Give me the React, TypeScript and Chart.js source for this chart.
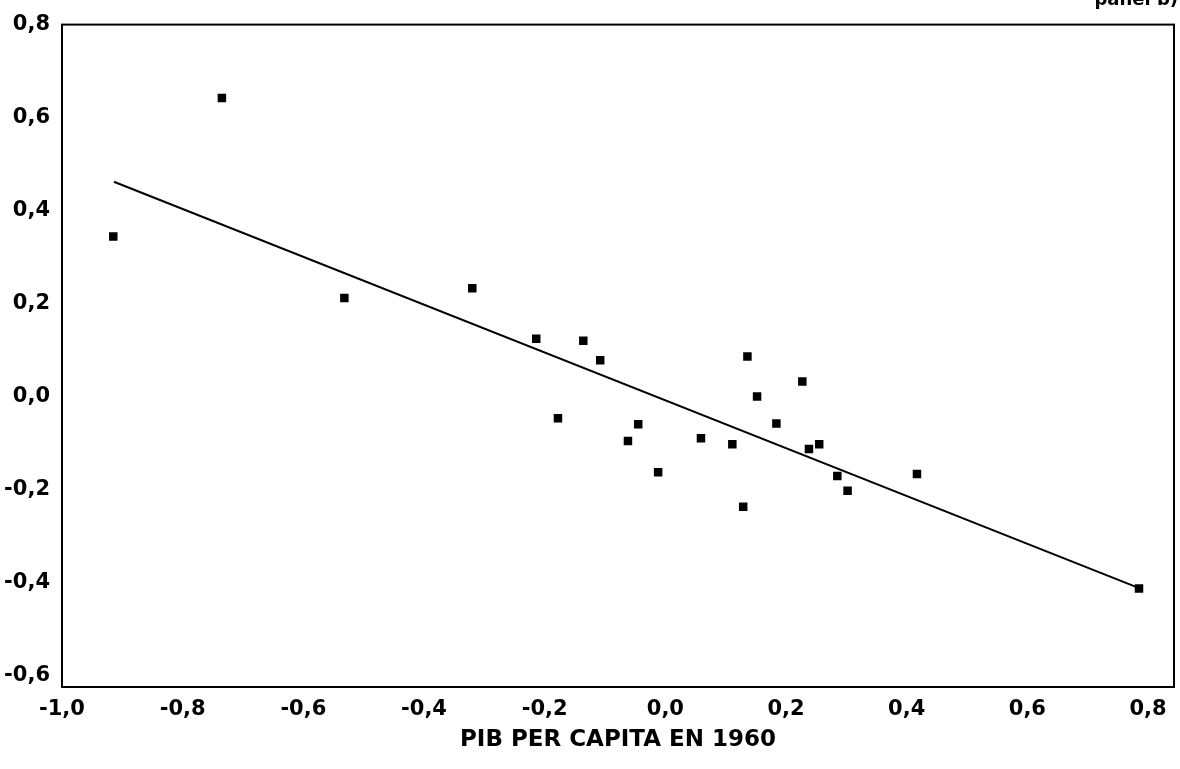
import React, { useEffect, useRef } from "react";
import { Chart, registerables } from "chart.js";

Chart.register(...registerables);

// Scatter data: x = PIB per capita en 1960, y = value (panel b)
const pointsX = [
  -0.915, -0.735, -0.532, -0.32, -0.214, -0.136, -0.108, -0.178, -0.062, -0.045,
  -0.012, 0.059, 0.111, 0.136, 0.129, 0.152, 0.184, 0.227, 0.238, 0.255,
  0.285, 0.302, 0.417, 0.785,
];
const pointsY = [
  0.344, 0.642, 0.212, 0.233, 0.124, 0.12, 0.078, -0.047, -0.096, -0.06,
  -0.163, -0.09, -0.103, 0.086, -0.237, 0.0, -0.058, 0.032, -0.113, -0.103,
  -0.171, -0.203, -0.167, -0.413,
];

// Fitted regression line endpoints
const fitX = [-0.914, 0.779];
const fitY = [0.462, -0.409];

const xTicks = [-1.0, -0.8, -0.6, -0.4, -0.2, 0.0, 0.2, 0.4, 0.6, 0.8];
const yTicks = [-0.6, -0.4, -0.2, 0.0, 0.2, 0.4, 0.6, 0.8];

const xTitle = "PIB PER CAPITA EN 1960";
const panelLabel = "panel b)";

const FONT = "'DejaVu Sans', 'Liberation Sans', sans-serif";

const fmt = (v: number) => (Math.abs(v) < 1e-9 ? 0 : v).toFixed(1).replace(".", ",");

const framePlugin = {
  id: "frame",
  afterDatasetsDraw(chart: any) {
    const { ctx, chartArea } = chart;
    ctx.save();
    ctx.strokeStyle = "#000";
    ctx.lineWidth = 2;
    ctx.strokeRect(chartArea.left, chartArea.top, chartArea.right - chartArea.left, chartArea.bottom - chartArea.top);
    ctx.restore();
  },
  afterDraw(chart: any) {
    const { ctx } = chart;
    ctx.save();
    ctx.fillStyle = "#000";
    ctx.font = `bold 18px ${FONT}`;
    ctx.textAlign = "right";
    ctx.textBaseline = "alphabetic";
    ctx.fillText(panelLabel, 1178, 5);
    ctx.restore();
  },
};

export default function App() {
  const canvasRef = useRef<HTMLCanvasElement | null>(null);

  useEffect(() => {
    document.body.style.margin = "0";
    document.body.style.overflow = "hidden";
    const canvas = canvasRef.current;
    if (!canvas) return;
    const chart = new Chart(canvas, {
      type: "scatter",
      data: {
        datasets: [
          {
            label: "data",
            data: pointsX.map((x, i) => ({ x, y: pointsY[i] })),
            pointStyle: "rect",
            pointRadius: 6,
            backgroundColor: "#000",
            borderColor: "#000",
            borderWidth: 0,
            showLine: false,
          },
          {
            type: "line",
            label: "fit",
            data: fitX.map((x, i) => ({ x, y: fitY[i] })),
            borderColor: "#000",
            borderWidth: 2,
            pointRadius: 0,
            fill: false,
          } as any,
        ],
      },
      options: {
        animation: false,
        responsive: false,
        devicePixelRatio: 1,
        layout: { padding: { top: 21, right: 2, left: 0, bottom: 0 } },
        plugins: {
          legend: { display: false },
          tooltip: { enabled: false },
        },
        scales: {
          x: {
            type: "linear",
            min: -1.0,
            max: 0.843,
            grid: { display: false, drawTicks: false },
            border: { display: false },
            afterBuildTicks: (scale: any) => {
              scale.ticks = xTicks.map((v) => ({ value: v }));
            },
            afterFit: (scale: any) => {
              scale.height = 82;
            },
            ticks: {
              color: "#000",
              padding: 10,
              autoSkip: false,
              maxRotation: 0,
              font: { family: FONT, size: 21, weight: "bold" },
              callback: (v: any) => fmt(Number(v)),
            },
            title: {
              display: true,
              text: xTitle,
              color: "#000",
              font: { family: FONT, size: 23, weight: "bold" },
              padding: { top: 0, bottom: 15 },
            },
          },
          y: {
            type: "linear",
            min: -0.625,
            max: 0.8,
            grid: { display: false, drawTicks: false },
            border: { display: false },
            afterBuildTicks: (scale: any) => {
              scale.ticks = yTicks.map((v) => ({ value: v }));
            },
            afterFit: (scale: any) => {
              scale.width = 62;
            },
            ticks: {
              color: "#000",
              padding: 12,
              autoSkip: false,
              font: { family: FONT, size: 21, weight: "bold" },
              callback: (v: any) => fmt(Number(v)),
            },
          },
        },
      },
      plugins: [framePlugin],
    });
    return () => chart.destroy();
  }, []);

  return (
    <div style={{ position: "relative", width: 1180, height: 769, background: "#fff" }}>
      <canvas ref={canvasRef} width={1180} height={769} style={{ display: "block", width: 1180, height: 769 }} />
    </div>
  );
}
